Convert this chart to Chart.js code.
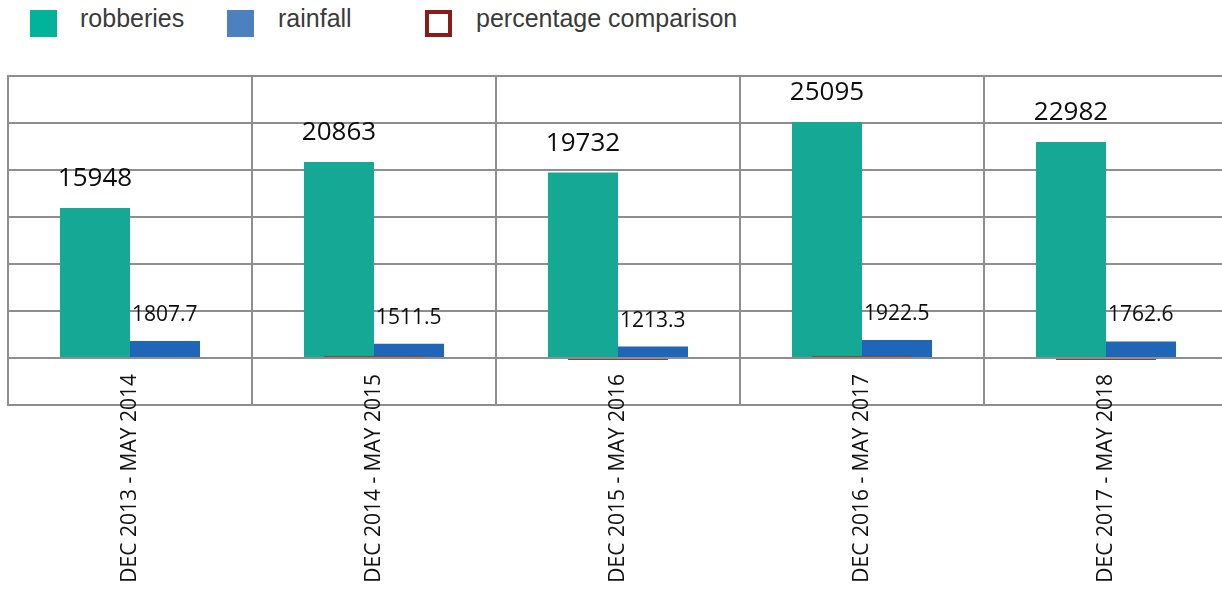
<!DOCTYPE html>
<html>
<head>
<meta charset="utf-8">
<script src="https://cdn.jsdelivr.net/npm/chart.js@4/dist/chart.umd.min.js"></script>
<style>
  html, body { margin: 0; padding: 0; background: #fff; overflow: hidden; }
  body { width: 1222px; height: 590px; position: relative; }
  #wrap { position: absolute; left: 0; top: 0; width: 1240px; height: 590px; }
  .lg-box { position: absolute; top: 10px; width: 27px; height: 27px; box-sizing: border-box; }
  .lg-text { position: absolute; top: 4px; font: 25px "Liberation Sans", Arial, sans-serif; color: #3a3a3a; }
</style>
</head>
<body>
<div class="lg-box" style="left:30px;background:#00b49b"></div>
<div class="lg-text" style="left:80px">robberies</div>
<div class="lg-box" style="left:227px;background:#4d80bf"></div>
<div class="lg-text" style="left:278px">rainfall</div>
<div class="lg-box" style="left:425px;border:4px solid #8b1a1a;background:#fff"></div>
<div class="lg-text" style="left:476px">percentage comparison</div>
<div id="wrap"><canvas id="chart"></canvas></div>
<script>
// données
const periods = ["DEC 2013 - MAY 2014", "DEC 2014 - MAY 2015", "DEC 2015 - MAY 2016", "DEC 2016 - MAY 2017", "DEC 2017 - MAY 2018"];
const robberies = [15948, 20863, 19732, 25095, 22982];
const rainfall = [1807.7, 1511.5, 1213.3, 1922.5, 1762.6];
const percentComparison = [null, 30.8, -5.4, 27.2, -8.4];

const gridColor = "#8e8e8e";

// étiquettes des valeurs et des catégories
const valueLabels = {
  id: "valueLabels",
  afterDatasetsDraw(chart) {
    const ctx = chart.ctx;
    ctx.save();
    ctx.fillStyle = "#0d0d0d";
    ctx.textBaseline = "alphabetic";
    chart.getDatasetMeta(0).data.forEach((bar, i) => {
      ctx.font = "26px 'Open Sans', sans-serif";
      ctx.textAlign = "center";
      ctx.fillText(String(robberies[i]), bar.x, bar.y - 22);
    });
    chart.getDatasetMeta(1).data.forEach((bar, i) => {
      ctx.font = "21px 'Open Sans', sans-serif";
      ctx.textAlign = "left";
      ctx.fillText(rainfall[i].toFixed(1), bar.x - bar.width / 2 + 2, bar.y - 20);
    });
    // libellés de l'axe x, verticaux, qui débordent dans la dernière rangée
    const xScale = chart.scales.x;
    ctx.font = "21px 'Open Sans', sans-serif";
    ctx.fillStyle = "#111";
    ctx.textAlign = "right";
    ctx.textBaseline = "middle";
    xScale.ticks.forEach((t, i) => {
      const x = xScale.getPixelForTick(i);
      ctx.save();
      ctx.translate(x, chart.chartArea.bottom - 31);
      ctx.rotate(-Math.PI / 2);
      ctx.fillText(xScale.getLabelForValue(t.value), 0, 0);
      ctx.restore();
    });
    ctx.restore();
  }
};

const ctx = document.getElementById("chart").getContext("2d");
new Chart(ctx, {
  type: "bar",
  data: {
    labels: periods,
    datasets: [
      {
        label: "robberies",
        data: robberies,
        backgroundColor: "#14a895",
        categoryPercentage: 0.574,
        barPercentage: 1.0
      },
      {
        label: "rainfall",
        data: rainfall,
        backgroundColor: "#1f66b8",
        categoryPercentage: 0.574,
        barPercentage: 1.0
      },
      {
        label: "percentage comparison",
        data: percentComparison,
        backgroundColor: "#8f3f33",
        grouped: false,
        categoryPercentage: 1,
        barPercentage: 0.41,
        minBarLength: 2,
        order: -1
      }
    ]
  },
  options: {
    responsive: true,
    maintainAspectRatio: false,
    animation: false,
    layout: { padding: { top: 76, left: 8, right: 12, bottom: 185 } },
    plugins: {
      legend: { display: false },
      tooltip: { enabled: false }
    },
    scales: {
      x: {
        grid: { color: gridColor, lineWidth: 2, drawTicks: false },
        border: { color: gridColor, width: 2 },
        ticks: { display: false }
      },
      y: {
        min: -5000,
        max: 30000,
        ticks: { stepSize: 5000, display: false },
        grid: { color: gridColor, lineWidth: 2, drawTicks: false },
        border: { color: gridColor, width: 2 }
      }
    }
  },
  plugins: [valueLabels]
});
</script>
</body>
</html>
